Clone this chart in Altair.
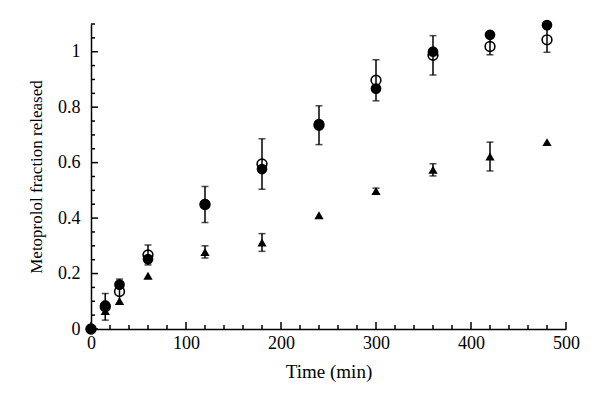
import altair as alt
import pandas as pd

# ---- data ----
time = [0, 15, 30, 60, 120, 180, 240, 300, 360, 420, 480]
filled = [0.0, 0.085, 0.160, 0.252, 0.450, 0.577, 0.739, 0.867, 1.000, 1.061, 1.096]
opened = [0.0, 0.080, 0.135, 0.267, 0.449, 0.595, 0.735, 0.897, 0.987, 1.019, 1.043]
open_err = [0.0, 0.048, 0.045, 0.036, 0.065, 0.091, 0.070, 0.074, 0.071, 0.030, 0.045]
tri_time = [15, 30, 60, 120, 180, 240, 300, 360, 420, 480]
triangle = [0.065, 0.101, 0.192, 0.278, 0.312, 0.410, 0.498, 0.574, 0.622, 0.674]
tri_err = [0.0, 0.0, 0.0, 0.022, 0.032, 0.0, 0.010, 0.022, 0.052, 0.0]

x_major = [0, 100, 200, 300, 400, 500]
x_minor = [v for v in range(0, 501, 20) if v % 100 != 0]
y_major = [0, 0.2, 0.4, 0.6, 0.8, 1.0]
y_minor = [0.05, 0.1, 0.15, 0.25, 0.3, 0.35, 0.45, 0.5, 0.55, 0.65, 0.7, 0.75,
           0.85, 0.9, 0.95, 1.05, 1.1]

W, H = 475, 305
FONT = "Liberation Serif"

df_f = pd.DataFrame({"t": time, "v": filled})
df_o = pd.DataFrame({"t": time, "v": opened, "e": open_err})
df_o["lo"] = df_o["v"] - df_o["e"]
df_o["hi"] = df_o["v"] + df_o["e"]
df_tr = pd.DataFrame({"t": tri_time, "v": triangle, "e": tri_err})
df_tr["lo"] = df_tr["v"] - df_tr["e"]
df_tr["hi"] = df_tr["v"] + df_tr["e"]
df_err = pd.concat([df_o[df_o.e > 0], df_tr[df_tr.e > 0]])

xs = alt.Scale(domain=[0, 500], nice=False)
ys = alt.Scale(domain=[0, 1.1], nice=False)

X = alt.X("t:Q", scale=xs, title="Time (min)",
          axis=alt.Axis(values=x_major, ticks=False, grid=False, domainColor="black",
                        domainWidth=1.5, labelPadding=5, titlePadding=10,
                        labelFontSize=18, titleFontSize=19, labelFlush=False,
                        labelFont=FONT, titleFont=FONT, titleFontWeight="normal",
                        labelColor="black", titleColor="black"))
Y = alt.Y("v:Q", scale=ys, title="Metoprolol fraction released",
          axis=alt.Axis(values=y_major, format="~g", ticks=False, grid=False,
                        domainColor="black", domainWidth=1.5, labelPadding=11,
                        labelFontSize=18, titleFontSize=17, labelFlush=False,
                        labelFont=FONT, titleFont=FONT, titleFontWeight="normal",
                        titlePadding=12, labelColor="black", titleColor="black"))

xq = alt.X("t:Q", scale=xs)
yq = alt.Y("v:Q", scale=ys)

base_axes = alt.Chart(df_f).mark_point(opacity=0).encode(x=X, y=Y)

def xticks(vals, length):
    return alt.Chart(pd.DataFrame({"t": vals})).mark_rule(color="black", strokeWidth=1.5).encode(
        x=xq, y=alt.value(H), y2=alt.value(H - length))

def yticks(vals, length):
    return alt.Chart(pd.DataFrame({"v": vals})).mark_rule(color="black", strokeWidth=1.5).encode(
        y=yq, x=alt.value(0), x2=alt.value(length))

open_pts = alt.Chart(df_o).mark_point(shape="circle", filled=False, color="black",
                                      strokeWidth=1.6, size=95, opacity=1).encode(x=xq, y=yq)
err_rule = alt.Chart(df_err).mark_rule(color="black", strokeWidth=1.5).encode(
    x=xq, y=alt.Y("lo:Q", scale=ys), y2="hi:Q")
cap_lo = alt.Chart(df_err).mark_tick(color="black", orient="horizontal", size=7,
                                     thickness=1.5).encode(x=xq, y=alt.Y("lo:Q", scale=ys))
cap_hi = alt.Chart(df_err).mark_tick(color="black", orient="horizontal", size=7,
                                     thickness=1.5).encode(x=xq, y=alt.Y("hi:Q", scale=ys))
filled_pts = alt.Chart(df_f).mark_point(shape="circle", filled=True, color="black",
                                        size=115, opacity=1).encode(x=xq, y=yq)
tri_pts = alt.Chart(df_tr).mark_point(shape="triangle-up", filled=True, color="black",
                                      size=85, opacity=1).encode(x=xq, y=yq)

chart = alt.layer(
    base_axes,
    xticks(x_major, 7), xticks(x_minor, 4),
    yticks(y_major, 7), yticks(y_minor, 4),
    open_pts, err_rule, cap_lo, cap_hi, filled_pts, tri_pts,
).properties(
    width=W, height=H,
    autosize=alt.AutoSizeParams(type="none"),
    padding={"left": 83, "top": 16, "right": 26, "bottom": 70},
).configure_view(stroke=None)

chart.save("out.html", embed_options={"renderer": "svg", "actions": False})
